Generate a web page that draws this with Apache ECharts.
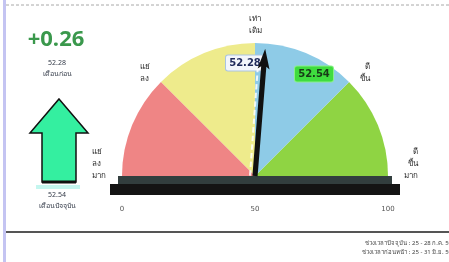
<!DOCTYPE html>
<html>
<head>
<meta charset="utf-8">
<script src="https://cdn.jsdelivr.net/npm/echarts@6/dist/echarts.min.js"></script>
<style>
  html, body { margin: 0; padding: 0; background: #fff; }
  #chart { width: 449px; height: 262px; }
</style>
</head>
<body>
<div id="chart"></div>
<script>
// ค่าของเกจ
var prevValue = 52.28
var currValue = 52.54
var prevLabel = 'เดือนก่อน'
var currLabel = 'เดือนปัจจุบัน'
// ช่วงสีของเกจ (สัดส่วน 0-1)
var zoneStops = [0.25, 0.5, 0.75, 1]
var zoneColors = ['#ef8585', '#eeeb8c', '#8ecbe7', '#8fd443']
// ป้ายรอบเกจ
var zoneTicks = [0, 25, 50, 75, 100]
var zoneNames = [['แย่', 'ลง', 'มาก'], ['แย่', 'ลง'], ['เท่า', 'เดิม'], ['ดี', 'ขึ้น'], ['ดี', 'ขึ้น', 'มาก']]
// สเกลด้านล่าง
var scaleTicks = [0, 50, 100]
var footerLines = ['ช่วงเวลาปัจจุบัน : 25 - 28 ก.ค. 59', 'ช่วงเวลาก่อนหน้า : 25 - 31 มิ.ย. 59']

var chart = echarts.init(document.getElementById('chart'))

var cx = 255
var cy = 176
var radius = 133
var thaiFont = '"Noto Sans", "DejaVu Sans", sans-serif'

var delta = currValue - prevValue
var deltaText = (delta >= 0 ? '+' : '') + delta.toFixed(2)

// เส้นประสำหรับเข็มเดือนก่อน
var dashPath = 'path://'
for (var i = 0; i < 100; i += 8) {
  dashPath += 'M0,' + i + 'h2v5h-2z'
}

var axisColor = []
for (var k = 0; k < zoneStops.length; k++) {
  axisColor.push([zoneStops[k], zoneColors[k]])
}

// ป้ายที่ปลายทั้งสองยกขึ้น ป้ายเฉียงเลื่อนลง (เติมบรรทัดว่าง)
function zoneLabel(v) {
  var idx = zoneTicks.indexOf(Math.round(v))
  if (idx < 0) return ''
  var text = zoneNames[idx].join('\n')
  if (idx === 0 || idx === 4) text = text + '\n \n '
  if (idx === 1 || idx === 3) text = ' \n \n' + text
  return text
}

var gaugeBase = {
  type: 'gauge',
  center: [cx, cy],
  radius: radius,
  startAngle: 180,
  endAngle: 0,
  min: zoneTicks[0],
  max: zoneTicks[zoneTicks.length - 1],
  splitNumber: zoneTicks.length - 1,
  axisTick: { show: false },
  splitLine: { show: false, length: 0, distance: 0 },
  anchor: { show: false },
  title: { show: false }
}

var option = {
  animation: false,
  grid: { left: 122, right: 61, top: 150, bottom: 62 },
  xAxis: {
    type: 'value',
    min: scaleTicks[0],
    max: scaleTicks[scaleTicks.length - 1],
    interval: scaleTicks[1] - scaleTicks[0],
    axisLine: { show: false },
    axisTick: { show: false },
    splitLine: { show: false },
    axisLabel: { fontSize: 7, color: '#555', margin: 6, fontFamily: 'DejaVu Sans' }
  },
  yAxis: { type: 'value', show: false, min: 0, max: 1 },
  graphic: [
    { type: 'rect', shape: { x: 3, y: 0, width: 3, height: 262 }, style: { fill: '#c4c4f2' } },
    { type: 'line', shape: { x1: 6, y1: 5, x2: 449, y2: 5 }, style: { stroke: '#a8a8a8', lineWidth: 1, lineDash: [3, 2] } },
    { type: 'line', shape: { x1: 6, y1: 232, x2: 449, y2: 232 }, style: { stroke: '#555', lineWidth: 2 } },
    // ฐานเกจ
    { type: 'rect', shape: { x: 118, y: 176, width: 274, height: 8 }, style: { fill: '#323e3e' } },
    { type: 'rect', shape: { x: 110, y: 184, width: 290, height: 11 }, style: { fill: '#141414' } },
    // ลูกศรด้านซ้าย
    {
      type: 'polygon',
      shape: { points: [[59, 99], [88, 133], [76, 133], [76, 182], [42, 182], [42, 133], [30, 133]] },
      style: { fill: '#34efa0', stroke: '#111', lineWidth: 1.5 }
    },
    { type: 'line', shape: { x1: 42, y1: 182, x2: 76, y2: 182 }, style: { stroke: '#111', lineWidth: 3 } },
    { type: 'rect', shape: { x: 36, y: 185, width: 44, height: 4 }, style: { fill: '#c4f6ef' } },
    {
      type: 'text', x: 56, y: 40,
      style: { text: deltaText, fill: '#3a984c', font: 'bold 22px "Open Sans", sans-serif', align: 'center', verticalAlign: 'middle' }
    },
    { type: 'text', x: 57, y: 63, style: { text: prevValue.toFixed(2), fill: '#333a48', font: '7px ' + thaiFont, align: 'center', verticalAlign: 'middle' } },
    { type: 'text', x: 57, y: 74, style: { text: prevLabel, fill: '#333a48', font: '7px ' + thaiFont, align: 'center', verticalAlign: 'middle' } },
    { type: 'text', x: 57, y: 195, style: { text: currValue.toFixed(2), fill: '#333a48', font: '7px ' + thaiFont, align: 'center', verticalAlign: 'middle' } },
    { type: 'text', x: 57, y: 206, style: { text: currLabel, fill: '#333a48', font: '7px ' + thaiFont, align: 'center', verticalAlign: 'middle' } },
    { type: 'text', x: 452, y: 243, style: { text: footerLines[0], fill: '#444', font: '6px ' + thaiFont, align: 'right', verticalAlign: 'middle' } },
    { type: 'text', x: 452, y: 252, style: { text: footerLines[1], fill: '#444', font: '6px ' + thaiFont, align: 'right', verticalAlign: 'middle' } }
  ],
  series: [
    { type: 'scatter', data: [] },
    Object.assign({}, gaugeBase, {
      // พื้นเกจ
      axisLine: { lineStyle: { width: radius, color: axisColor } },
      axisLabel: { show: false },
      pointer: { show: false },
      detail: { show: false },
      data: []
    }),
    Object.assign({}, gaugeBase, {
      // ป้ายรอบเกจ
      axisLine: { show: false, lineStyle: { width: 0 } },
      axisLabel: {
        distance: -30,
        formatter: zoneLabel,
        fontSize: 8,
        lineHeight: 12,
        color: '#2a2a2a',
        fontFamily: thaiFont
      },
      pointer: { show: false },
      detail: { show: false },
      data: []
    }),
    Object.assign({}, gaugeBase, {
      // เข็มเดือนก่อน
      axisLine: { show: false, lineStyle: { width: 0 } },
      axisLabel: { show: false },
      pointer: { icon: dashPath, length: '82%', width: 2, offsetCenter: [-5, 0], itemStyle: { color: 'rgba(255,255,255,0.85)' } },
      detail: {
        offsetCenter: [-10, -113],
        width: 34,
        height: 13,
        lineHeight: 13,
        formatter: function (v) { return v.toFixed(2) },
        fontSize: 10,
        fontWeight: 'bold',
        fontFamily: 'DejaVu Sans',
        color: '#1f2a5a',
        backgroundColor: '#f3f6fb',
        borderColor: '#a9c4e0',
        borderWidth: 1,
        borderRadius: 2,
        padding: [1, 2]
      },
      data: [{ value: prevValue }]
    }),
    Object.assign({}, gaugeBase, {
      // เข็มเดือนปัจจุบัน
      axisLine: { show: false, lineStyle: { width: 0 } },
      axisLabel: { show: false },
      pointer: {
        icon: 'path://M6,0 L12,16 L8.6,14 L8.6,100 L3.4,100 L3.4,14 L0,16 Z',
        length: '96%',
        width: 12,
        itemStyle: { color: '#111' }
      },
      detail: {
        offsetCenter: [59, -102],
        width: 34,
        height: 13,
        lineHeight: 13,
        formatter: function (v) { return v.toFixed(2) },
        fontSize: 10,
        fontWeight: 'bold',
        fontFamily: 'DejaVu Sans',
        color: '#173a17',
        backgroundColor: '#3fdc3f',
        borderColor: '#8af08a',
        borderWidth: 1,
        borderRadius: 2,
        padding: [1, 2]
      },
      data: [{ value: currValue }]
    })
  ]
}
chart.setOption(option)
</script>
</body>
</html>
